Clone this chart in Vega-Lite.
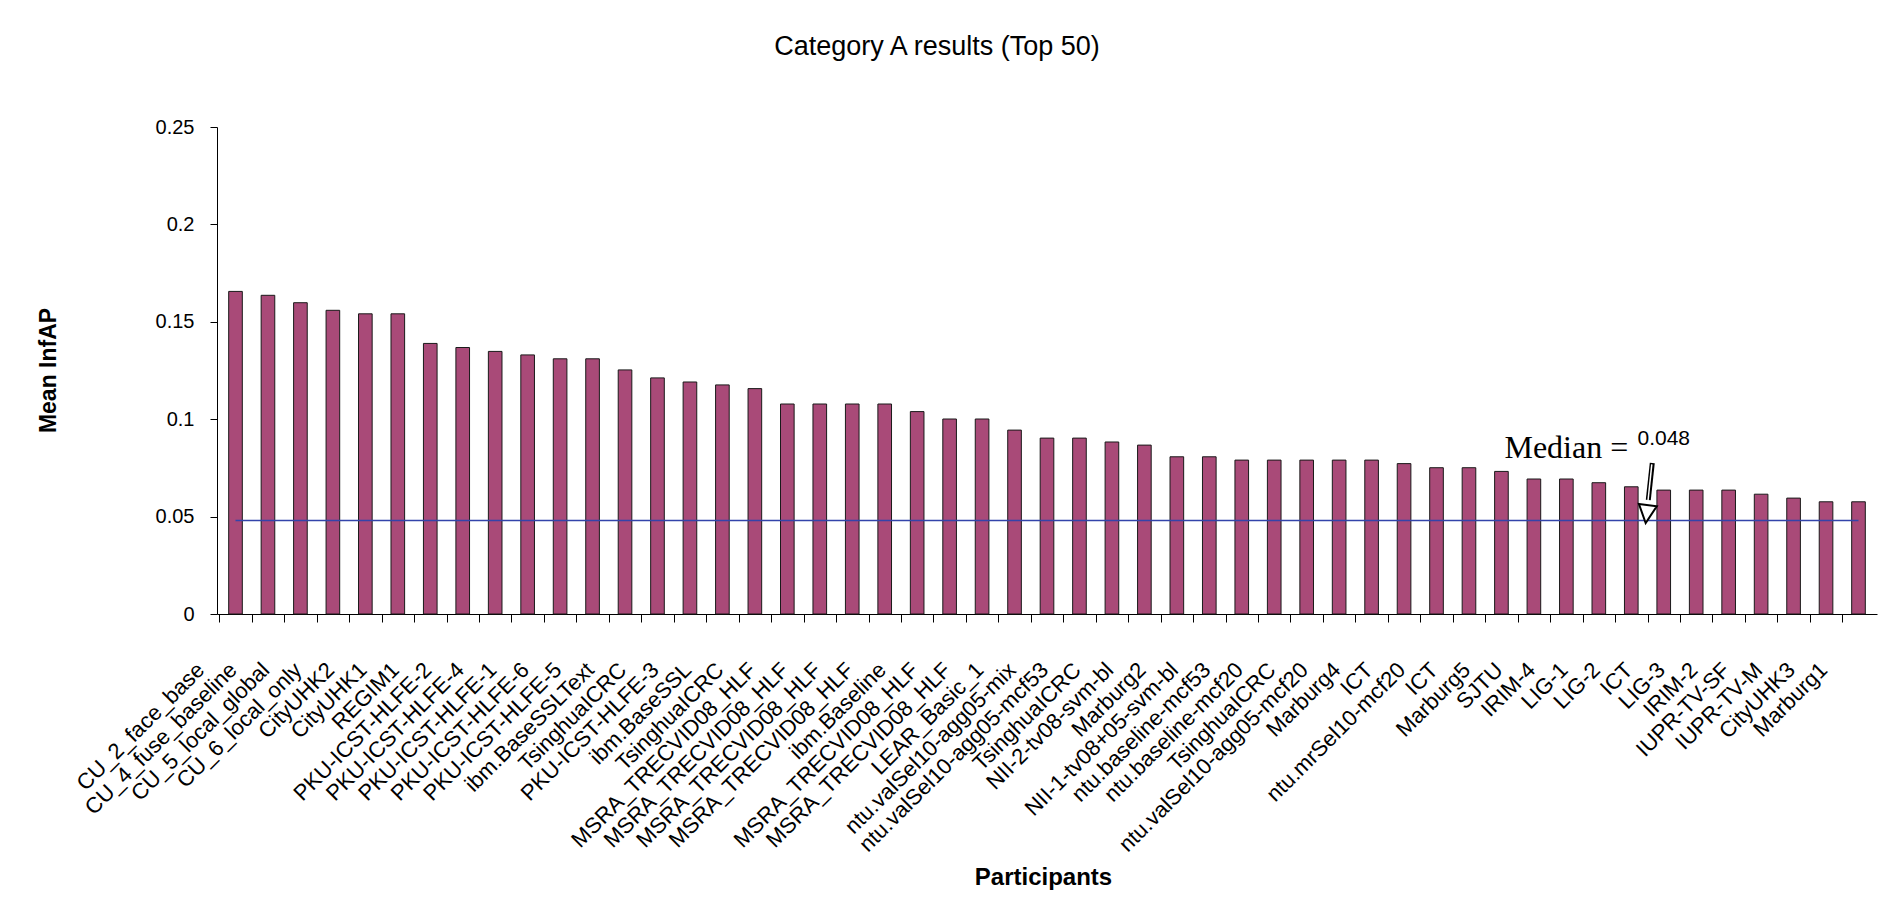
{
  "$schema": "https://vega.github.io/schema/vega-lite/v6.json",
  "autosize": "none",
  "width": 1660,
  "height": 487,
  "padding": {"left": 217, "top": 127, "right": 8, "bottom": 302},
  "background": "white",
  "datasets": {
    "bars": [
      {"rank": 1, "participant": "CU_2_face_base", "infAP": 0.1656},
      {"rank": 2, "participant": "CU_4_fuse_baseline", "infAP": 0.1636},
      {"rank": 3, "participant": "CU_5_local_global", "infAP": 0.1598},
      {"rank": 4, "participant": "CU_6_local_only", "infAP": 0.1559},
      {"rank": 5, "participant": "CityUHK2", "infAP": 0.1541},
      {"rank": 6, "participant": "CityUHK1", "infAP": 0.1541},
      {"rank": 7, "participant": "REGIM1", "infAP": 0.1389},
      {"rank": 8, "participant": "PKU-ICST-HLFE-2", "infAP": 0.1368},
      {"rank": 9, "participant": "PKU-ICST-HLFE-4", "infAP": 0.1348},
      {"rank": 10, "participant": "PKU-ICST-HLFE-1", "infAP": 0.1330},
      {"rank": 11, "participant": "PKU-ICST-HLFE-6", "infAP": 0.1310},
      {"rank": 12, "participant": "PKU-ICST-HLFE-5", "infAP": 0.1310},
      {"rank": 13, "participant": "ibm.BaseSSLText", "infAP": 0.1253},
      {"rank": 14, "participant": "TsinghuaICRC", "infAP": 0.1212},
      {"rank": 15, "participant": "PKU-ICST-HLFE-3", "infAP": 0.1191},
      {"rank": 16, "participant": "ibm.BaseSSL", "infAP": 0.1176},
      {"rank": 17, "participant": "TsinghuaICRC", "infAP": 0.1157},
      {"rank": 18, "participant": "MSRA_TRECVID08_HLF", "infAP": 0.1078},
      {"rank": 19, "participant": "MSRA_TRECVID08_HLF", "infAP": 0.1078},
      {"rank": 20, "participant": "MSRA_TRECVID08_HLF", "infAP": 0.1078},
      {"rank": 21, "participant": "MSRA_TRECVID08_HLF", "infAP": 0.1078},
      {"rank": 22, "participant": "ibm.Baseline", "infAP": 0.1039},
      {"rank": 23, "participant": "MSRA_TRECVID08_HLF", "infAP": 0.1001},
      {"rank": 24, "participant": "MSRA_TRECVID08_HLF", "infAP": 0.1001},
      {"rank": 25, "participant": "LEAR_Basic_1", "infAP": 0.0944},
      {"rank": 26, "participant": "ntu.valSel10-agg05-mix", "infAP": 0.0903},
      {"rank": 27, "participant": "ntu.valSel10-agg05-mcf53", "infAP": 0.0903},
      {"rank": 28, "participant": "TsinghuaICRC", "infAP": 0.0883},
      {"rank": 29, "participant": "NII-2-tv08-svm-bl", "infAP": 0.0867},
      {"rank": 30, "participant": "Marburg2", "infAP": 0.0807},
      {"rank": 31, "participant": "NII-1-tv08+05-svm-bl", "infAP": 0.0807},
      {"rank": 32, "participant": "ntu.baseline-mcf53", "infAP": 0.0790},
      {"rank": 33, "participant": "ntu.baseline-mcf20", "infAP": 0.0790},
      {"rank": 34, "participant": "TsinghuaICRC", "infAP": 0.0790},
      {"rank": 35, "participant": "ntu.valSel10-agg05-mcf20", "infAP": 0.0790},
      {"rank": 36, "participant": "Marburg4", "infAP": 0.0790},
      {"rank": 37, "participant": "ICT", "infAP": 0.0772},
      {"rank": 38, "participant": "ntu.mrSel10-mcf20", "infAP": 0.0751},
      {"rank": 39, "participant": "ICT", "infAP": 0.0751},
      {"rank": 40, "participant": "Marburg5", "infAP": 0.0732},
      {"rank": 41, "participant": "SJTU", "infAP": 0.0693},
      {"rank": 42, "participant": "IRIM-4", "infAP": 0.0693},
      {"rank": 43, "participant": "LIG-1", "infAP": 0.0674},
      {"rank": 44, "participant": "LIG-2", "infAP": 0.0653},
      {"rank": 45, "participant": "ICT", "infAP": 0.0636},
      {"rank": 46, "participant": "LIG-3", "infAP": 0.0636},
      {"rank": 47, "participant": "IRIM-2", "infAP": 0.0636},
      {"rank": 48, "participant": "IUPR-TV-SF", "infAP": 0.0615},
      {"rank": 49, "participant": "IUPR-TV-M", "infAP": 0.0595},
      {"rank": 50, "participant": "CityUHK3", "infAP": 0.0576},
      {"rank": 51, "participant": "Marburg1", "infAP": 0.0576}
    ]
  },
  "data": {"name": "bars"},
  "title": {
    "text": "Category A results (Top 50)",
    "font": "Liberation Sans",
    "fontSize": 27,
    "fontWeight": "normal",
    "color": "black",
    "anchor": "middle",
    "frame": "group",
    "dx": -110,
    "offset": 35,
    "baseline": "alphabetic"
  },
  "layer": [
    {
      "mark": {"type": "bar", "fill": "#A94A78", "stroke": "#1a1a1a", "strokeWidth": 1},
      "encoding": {
        "x": {
          "field": "rank",
          "type": "ordinal",
          "scale": {"paddingInner": 0.58, "paddingOuter": 0.36},
          "axis": {
            "title": "Participants",
            "titleFont": "Liberation Sans",
            "titleFontSize": 24,
            "titleFontWeight": "bold",
            "titleColor": "black",
            "titleX": 826,
            "titleY": 270,
            "titleBaseline": "alphabetic",
            "titleAlign": "center",
            "labelExpr": "data('bars')[datum.value - 1].participant",
            "labelAngle": -45,
            "labelAlign": "right",
            "labelBaseline": "middle",
            "labelFont": "Liberation Sans",
            "labelFontSize": 22,
            "labelColor": "black",
            "labelPadding": 44,
            "labelOffset": -19,
            "labelOverlap": false,
            "labelLimit": 500,
            "labelBound": false,
            "tickOffset": -16.2,
            "tickSize": 8,
            "tickColor": "black",
            "domainColor": "black",
            "grid": false
          }
        },
        "y": {
          "field": "infAP",
          "type": "quantitative",
          "scale": {"domain": [0, 0.25], "nice": false},
          "axis": {
            "title": "Mean InfAP",
            "titleFont": "Liberation Sans",
            "titleFontSize": 23,
            "titleFontWeight": "bold",
            "titleColor": "black",
            "titleX": -169,
            "titleY": 243,
            "titleAngle": -90,
            "titleBaseline": "middle",
            "titleAlign": "center",
            "values": [0, 0.05, 0.1, 0.15, 0.2, 0.25],
            "format": "~g",
            "labelFont": "Liberation Sans",
            "labelFontSize": 20,
            "labelColor": "black",
            "labelPadding": 16,
            "tickSize": 7,
            "tickColor": "black",
            "domainColor": "black",
            "grid": false
          }
        }
      }
    },
    {
      "mark": {"type": "line", "color": "#3344AA", "strokeWidth": 1.5},
      "encoding": {
        "x": {"field": "rank", "type": "ordinal"},
        "y": {"datum": 0.048, "type": "quantitative"}
      }
    },
    {
      "data": {"values": [{}]},
      "mark": {"type": "text", "text": "Median =", "font": "Liberation Serif", "fontSize": 32, "align": "center", "baseline": "alphabetic", "color": "black"},
      "encoding": {
        "x": {"datum": 42, "type": "ordinal"},
        "y": {"datum": 0.0799, "type": "quantitative"}
      }
    },
    {
      "data": {"values": [{}]},
      "mark": {"type": "text", "text": "0.048", "font": "Liberation Sans", "fontSize": 21, "align": "center", "baseline": "alphabetic", "color": "black"},
      "encoding": {
        "x": {"datum": 45, "type": "ordinal"},
        "y": {"datum": 0.0866, "type": "quantitative"}
      }
    },
    {
      "data": {"values": [{}]},
      "mark": {"type": "rule", "color": "black", "strokeWidth": 5, "xOffset": 21, "x2Offset": 17},
      "encoding": {
        "x": {"datum": 44, "type": "ordinal"},
        "x2": {"datum": 44},
        "y": {"datum": 0.0775, "type": "quantitative"},
        "y2": {"datum": 0.0585}
      }
    },
    {
      "data": {"values": [{}]},
      "mark": {"type": "rule", "color": "white", "strokeWidth": 1.5, "xOffset": 20.5, "x2Offset": 16.8},
      "encoding": {
        "x": {"datum": 44, "type": "ordinal"},
        "x2": {"datum": 44},
        "y": {"datum": 0.0768, "type": "quantitative"},
        "y2": {"datum": 0.0585}
      }
    },
    {
      "data": {"values": [{}]},
      "mark": {"type": "point", "shape": "M-1,-1L1,-1L0,1Z", "size": 324, "filled": true, "fill": "white", "stroke": "black", "strokeWidth": 2, "opacity": 1, "angle": 7, "xOffset": 15.5},
      "encoding": {
        "x": {"datum": 44, "type": "ordinal"},
        "y": {"datum": 0.0513, "type": "quantitative"}
      }
    }
  ],
  "config": {
    "view": {"stroke": null},
    "axis": {"domainWidth": 1, "tickWidth": 1}
  }
}
